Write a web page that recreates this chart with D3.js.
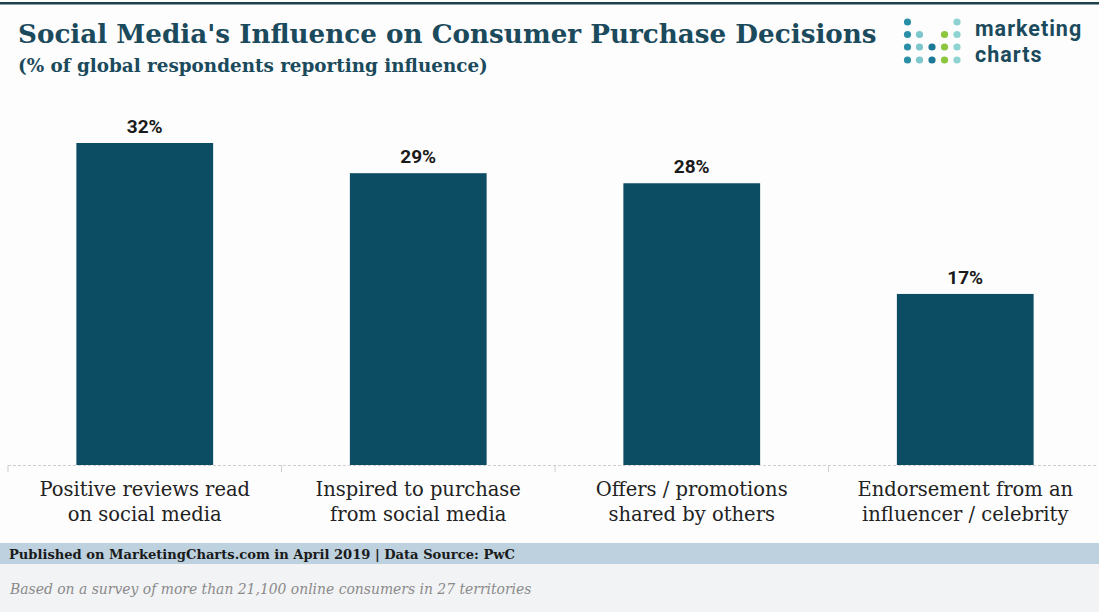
<!DOCTYPE html>
<html>
<head>
<meta charset="utf-8">
<script src="https://cdn.jsdelivr.net/npm/d3@7"></script>
<style>
  body { margin: 0; background: #fdfdfd; }
  svg { display: block; }
</style>
</head>
<body>
<svg id="chart" width="1099" height="612"></svg>
<script>
'use strict'

const categories = [
  ['Positive reviews read', 'on social media'],
  ['Inspired to purchase', 'from social media'],
  ['Offers / promotions', 'shared by others'],
  ['Endorsement from an', 'influencer / celebrity']
];
const values = [32, 29, 28, 17];
const valueLabels = ['32%', '29%', '28%', '17%'];

const title = "Social Media's Influence on Consumer Purchase Decisions";
const subtitle = '(% of global respondents reporting influence)';
const sourceNote = 'Published on MarketingCharts.com in April 2019 | Data Source: PwC';
const surveyNote = 'Based on a survey of more than 21,100 online consumers in 27 territories';
const logoWords = ['marketing', 'charts'];

const W = 1099, H = 612;
const slab = "'DejaVu Serif', 'Liberation Serif', serif";
const sans = "Roboto, 'Open Sans', 'DejaVu Sans', sans-serif";
const dark = '#1b4a5c';
const barColor = '#0d4d64';

const svg = d3.select('#chart');

svg.append('rect').attr('width', W).attr('height', H).attr('fill', '#fdfdfd');

// squeeze text into a target width by shrinking the font size
function fitText (sel, target) {
  const w = sel.node().getComputedTextLength();
  if (w > 0) {
    const fs = parseFloat(sel.attr('font-size'));
    sel.attr('font-size', fs * target / w);
  }
  return sel;
}

// top rule
svg.append('rect').attr('x', 0).attr('y', 2).attr('width', W).attr('height', 2.5).attr('fill', '#1e3f4c');

// title + subtitle
fitText(svg.append('text')
  .attr('x', 18).attr('y', 43)
  .attr('font-family', slab).attr('font-weight', 'bold')
  .attr('font-size', 28).attr('fill', dark)
  .text(title), 859);

fitText(svg.append('text')
  .attr('x', 18).attr('y', 72)
  .attr('font-family', slab).attr('font-weight', 'bold')
  .attr('font-size', 20).attr('fill', dark)
  .text(subtitle), 470);

// logo
const dotCols = [907.5, 919.5, 932, 944.5, 957];
const dotRows = [22, 34.5, 47, 60];
const dotColors = ['#2a8fa6', '#7cc7cb', '#1b7896', '#8cc63f', '#8fd2d2'];
const dots = [
  [0, 0], [4, 0],
  [0, 1], [1, 1], [3, 1], [4, 1],
  [0, 2], [1, 2], [2, 2], [3, 2], [4, 2],
  [0, 3], [1, 3], [2, 3], [3, 3], [4, 3]
];
svg.append('g').selectAll('circle')
  .data(dots)
  .enter().append('circle')
    .attr('cx', d => dotCols[d[0]])
    .attr('cy', d => dotRows[d[1]])
    .attr('r', 3.6)
    .attr('fill', d => dotColors[d[0]]);

svg.append('g').selectAll('text')
  .data(logoWords)
  .enter().append('text')
    .attr('x', 975)
    .attr('y', (d, i) => i === 0 ? 36 : 62)
    .attr('font-family', 'Roboto, sans-serif').attr('font-weight', 'bold')
    .attr('font-size', 21.5).attr('letter-spacing', 1)
    .attr('fill', dark)
    .text(d => d);

// scales
const x = d3.scaleBand()
  .domain(d3.range(values.length))
  .range([8, 1102])
  .paddingInner(0.5)
  .paddingOuter(0.25);

const baseY = 465;
const y = d3.scaleLinear()
  .domain([0, 32])
  .range([baseY, 143]);

// bars
svg.append('g').selectAll('rect')
  .data(values)
  .enter().append('rect')
    .attr('x', (d, i) => x(i))
    .attr('y', d => y(d))
    .attr('width', x.bandwidth())
    .attr('height', d => baseY - y(d))
    .attr('fill', barColor);

// value labels
svg.append('g').selectAll('text')
  .data(values)
  .enter().append('text')
    .attr('x', (d, i) => x(i) + x.bandwidth() / 2)
    .attr('y', d => y(d) - 10)
    .attr('text-anchor', 'middle')
    .attr('font-family', sans).attr('font-weight', 'bold')
    .attr('font-size', 19).attr('fill', '#1a1a1a')
    .text((d, i) => valueLabels[i]);

// baseline axis
const axisG = svg.append('g');
axisG.append('line')
  .attr('x1', 8).attr('x2', W - 1)
  .attr('y1', baseY + 0.5).attr('y2', baseY + 0.5)
  .attr('stroke', '#cfcfcf').attr('stroke-dasharray', '3,2');
const step = x.step();
axisG.selectAll('line.tick')
  .data(d3.range(values.length + 1))
  .enter().append('line')
    .attr('class', 'tick')
    .attr('x1', i => x(0) - step * 0.25 + i * step)
    .attr('x2', i => x(0) - step * 0.25 + i * step)
    .attr('y1', baseY).attr('y2', baseY + 7)
    .attr('stroke', '#cfcfcf');

// category labels
const catG = svg.append('g').selectAll('text')
  .data(categories)
  .enter().append('text')
    .attr('x', (d, i) => x(i) + x.bandwidth() / 2)
    .attr('y', 496)
    .attr('text-anchor', 'middle')
    .attr('font-family', slab)
    .attr('font-size', 19.5).attr('fill', '#222');
catG.selectAll('tspan')
  .data(d => d)
  .enter().append('tspan')
    .attr('x', function () { return d3.select(this.parentNode).attr('x'); })
    .attr('dy', (d, j) => j === 0 ? 0 : 25)
    .text(d => d);

// footer
svg.append('rect').attr('x', 0).attr('y', 543).attr('width', W).attr('height', 21).attr('fill', '#bdd1de');
svg.append('rect').attr('x', 0).attr('y', 564).attr('width', W).attr('height', 48).attr('fill', '#f2f3f5');

fitText(svg.append('text')
  .attr('x', 9).attr('y', 559)
  .attr('font-family', slab).attr('font-weight', 'bold')
  .attr('font-size', 15).attr('fill', '#1a1a1a')
  .text(sourceNote), 506);

fitText(svg.append('text')
  .attr('x', 10).attr('y', 594)
  .attr('font-family', slab).attr('font-style', 'italic')
  .attr('font-size', 14).attr('fill', '#8a8a8a')
  .text(surveyNote), 522);
</script>
</body>
</html>
